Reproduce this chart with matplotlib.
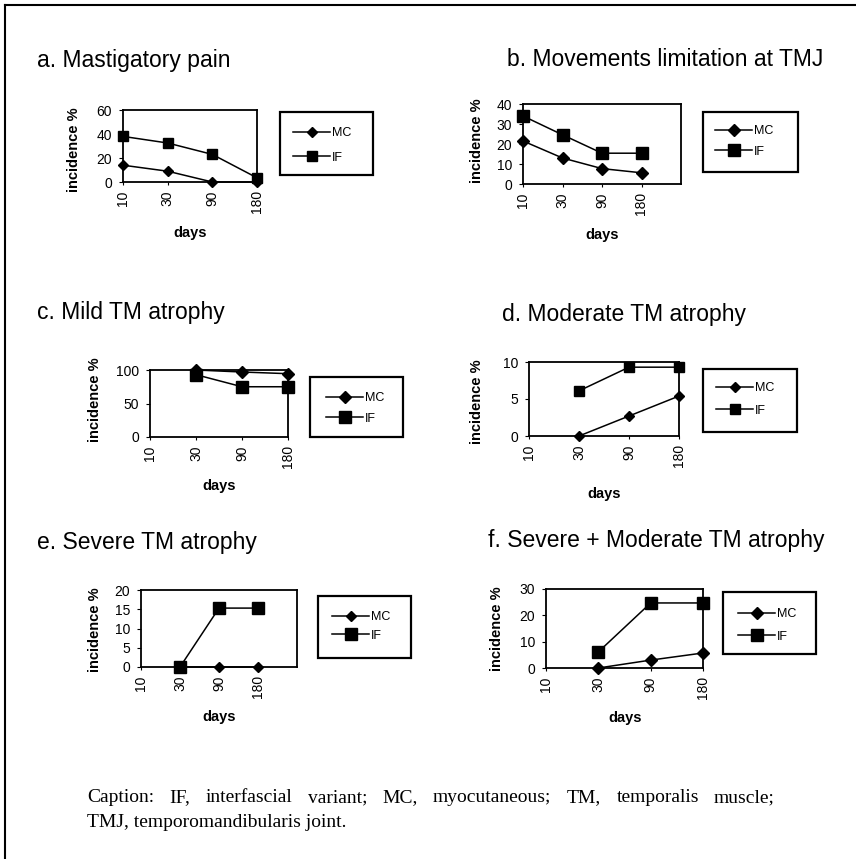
import matplotlib
matplotlib.use('Agg')
import matplotlib.pyplot as plt
from matplotlib.patches import Rectangle
from matplotlib.lines import Line2D
import numpy as np

W, H = 856, 859

days = ['10', '30', '90', '180']

# values (incidence %)
mastig_mc = [14, 9, 0, 0]
mastig_if = [38, 32.5, 23, 3.5]
movlim_mc = [21.5, 13, 7.7, 5.6]
movlim_if = [34, 24.6, 15.4, 15.4]
mild_mc = [np.nan, 100, 97, 94.5]
mild_if = [np.nan, 93, 75, 75]
moder_mc = [np.nan, 0, 2.7, 5.4]
moder_if = [np.nan, 6.1, 9.3, 9.3]
severe_mc = [np.nan, 0, 0, 0]
severe_if = [np.nan, 0, 15.3, 15.3]
sevmod_mc = [np.nan, 0, 3, 5.7]
sevmod_if = [np.nan, 6.1, 24.7, 24.7]

titles = ['a. Mastigatory pain', 'b. Movements limitation at TMJ',
          'c. Mild TM atrophy', 'd. Moderate TM atrophy',
          'e. Severe TM atrophy', 'f. Severe + Moderate TM atrophy']

caption1 = 'Caption: IF, interfascial variant; MC, myocutaneous; TM, temporalis muscle;'
caption2 = 'TMJ, temporomandibularis joint.'

SANS = 'Liberation Sans'
SERIF = 'Liberation Serif'


def fx(x):
    return x / W


def fy(y):
    return 1 - y / H


def px_rect(l, t, r, b):
    return [l / W, 1 - b / H, (r - l) / W, (b - t) / H]


# layout of each panel, in pixels
panels = [
    dict(mc=mastig_mc, fi=mastig_if, ymax=60, yt=[0, 20, 40, 60], slots=3,
         ax=(123, 110, 257, 182), title=(37, 60), ylab=(74, 150), xlab=(190, 233),
         box=(280, 112, 373, 175), leg=(293, 132, 159), ms=(5.5, 7)),
    dict(mc=movlim_mc, fi=movlim_if, ymax=40, yt=[0, 10, 20, 30, 40], slots=4,
         ax=(523, 104, 681, 184), title=(507, 60), ylab=(477, 141), xlab=(602, 235),
         box=(703, 112, 798, 172), leg=(715, 130, 153), ms=(6.5, 8.5)),
    dict(mc=mild_mc, fi=mild_if, ymax=100, yt=[0, 50, 100], slots=3,
         ax=(150, 370, 288, 437), title=(37, 313), ylab=(95, 400), xlab=(219, 486),
         box=(310, 377, 403, 437), leg=(326, 397, 420), ms=(6.5, 8.5)),
    dict(mc=moder_mc, fi=moder_if, ymax=10, yt=[0, 5, 10], slots=3,
         ax=(529, 362, 679, 436), title=(502, 315), ylab=(477, 402), xlab=(604, 494),
         box=(703, 369, 797, 432), leg=(716, 387, 412), ms=(5.5, 7.5)),
    dict(mc=severe_mc, fi=severe_if, ymax=20, yt=[0, 5, 10, 15, 20], slots=4,
         ax=(141, 590, 297, 667), title=(37, 542), ylab=(95, 630), xlab=(219, 717),
         box=(318, 596, 411, 658), leg=(332, 616, 637), ms=(5.5, 8)),
    dict(mc=sevmod_mc, fi=sevmod_if, ymax=30, yt=[0, 10, 20, 30], slots=3,
         ax=(546, 589, 703, 668), title=(488, 540), ylab=(497, 629), xlab=(625, 718),
         box=(723, 592, 816, 654), leg=(738, 613, 638), ms=(6, 8.5)),
]

fig = plt.figure(figsize=(W / 100, H / 100), dpi=100)
fig.patch.set_facecolor('white')

x = np.arange(len(days))
for p, title in zip(panels, titles):
    ax = fig.add_axes(px_rect(*p['ax']))
    l1, = ax.plot(x, p['mc'], color='black', lw=1.1, marker='D', ms=p['ms'][0],
                  clip_on=False, zorder=3)
    l2, = ax.plot(x, p['fi'], color='black', lw=1.1, marker='s', ms=p['ms'][1],
                  clip_on=False, zorder=3)
    ax.set_xlim(0, p['slots'])
    ax.set_ylim(0, p['ymax'])
    ax.set_xticks(x)
    ax.set_xticklabels(days, rotation=90, fontsize=10, family=SANS)
    ax.set_yticks(p['yt'])
    ax.set_yticklabels([str(v) for v in p['yt']], fontsize=10, family=SANS)
    ax.tick_params(axis='y', length=3, width=0.8, pad=5)
    ax.tick_params(axis='x', length=2, width=0.8, pad=4)
    for s in ax.spines.values():
        s.set_linewidth(1.3)

    fig.text(fx(p['title'][0]), fy(p['title'][1]), title, fontsize=16.5,
             family=SANS, ha='left', va='center')
    fig.text(fx(p['ylab'][0]), fy(p['ylab'][1]), 'incidence %', fontsize=10.5,
             family=SANS, weight='bold', rotation=90, ha='center', va='center')
    fig.text(fx(p['xlab'][0]), fy(p['xlab'][1]), 'days', fontsize=10.5,
             family=SANS, weight='bold', ha='center', va='center')

    bl, bt, br, bb = p['box']
    fig.patches.append(Rectangle((fx(bl), fy(bb)), (br - bl) / W, (bb - bt) / H,
                                 transform=fig.transFigure, fill=False,
                                 lw=1.6, ec='black'))
    lx, r1, r2 = p['leg']
    fs_px = 9 * 100 / 72
    fig.legend([l1, l2], ['MC', 'IF'], loc='center left',
               bbox_to_anchor=(fx(lx), fy((r1 + r2) / 2)),
               frameon=False, prop=dict(family=SANS, size=9),
               handlelength=37 / fs_px, handletextpad=0.15,
               labelspacing=(r2 - r1 - 14.5) / fs_px,
               borderpad=0, borderaxespad=0)

# outer frame (left and top edges are visible)
fig.add_artist(Line2D([fx(5), fx(5)], [fy(5), fy(H)], color='black', lw=1.5,
                      transform=fig.transFigure))
fig.add_artist(Line2D([fx(5), fx(W)], [fy(5), fy(5)], color='black', lw=1.5,
                      transform=fig.transFigure))

# caption, first line justified
renderer = fig.canvas.get_renderer()
words = caption1.split()
objs = [fig.text(0, fy(802), w, fontsize=14, family=SERIF, va='baseline')
        for w in words]
widths = [o.get_window_extent(renderer).width for o in objs]
left, right = 87, 775
gap = (right - left - sum(widths)) / (len(words) - 1)
pos = left
for o, w in zip(objs, widths):
    o.set_x(fx(pos))
    pos += w + gap
fig.text(fx(87), fy(827), caption2, fontsize=14, family=SERIF, va='baseline')

fig.savefig('out.png', dpi=100, facecolor='white')
